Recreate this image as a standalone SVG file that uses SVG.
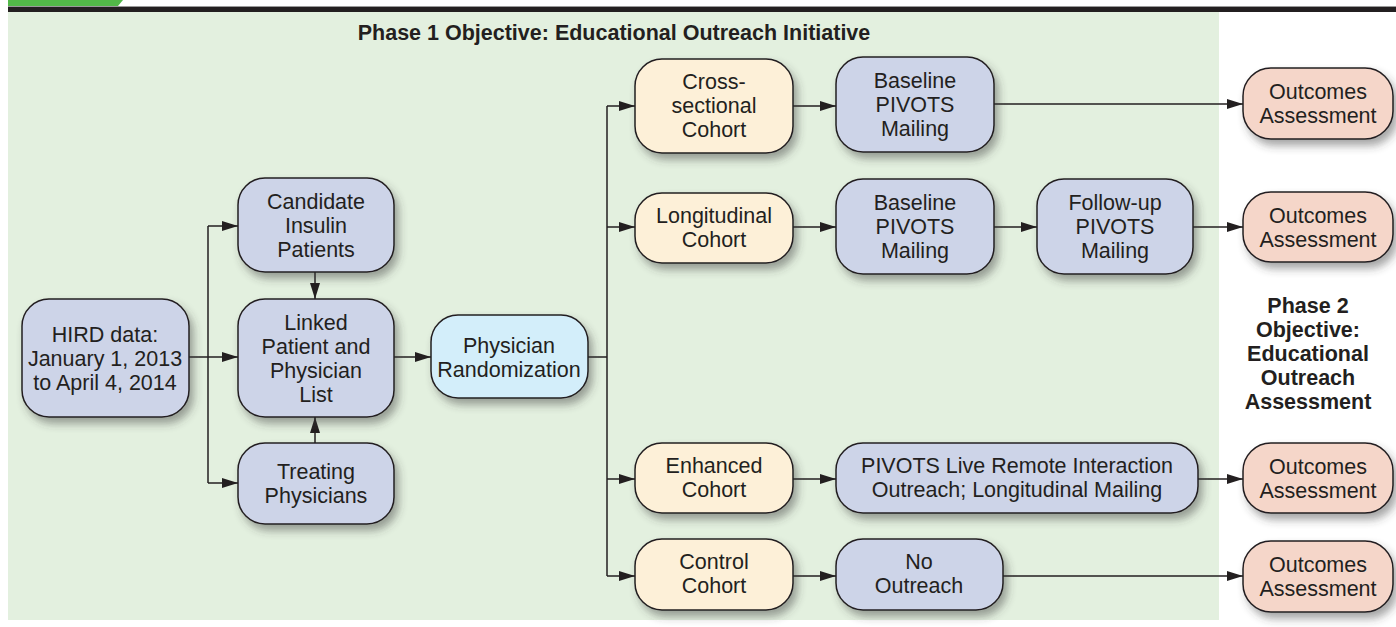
<svg xmlns="http://www.w3.org/2000/svg" width="1396" height="627" viewBox="0 0 1396 627">
<defs>
<filter id="sh" x="-20%" y="-20%" width="150%" height="160%">
<feDropShadow dx="4" dy="6" stdDeviation="4" flood-color="#3a3a3a" flood-opacity="0.45"/>
</filter>
<marker id="ar" markerUnits="userSpaceOnUse" markerWidth="17" markerHeight="11" refX="16" refY="5" orient="auto">
<path d="M0,0 L16,5 L0,10 z" fill="#231f20"/>
</marker>
</defs>
<style>
.n rect{stroke:#231f20;stroke-width:1.5;filter:url(#sh)}
.b rect{fill:#cdd4e8}
.c rect{fill:#fdf0d8}
.o rect{fill:#f5d6c9}
.p rect{fill:#d3eefa}
text{font-family:"Liberation Sans",Arial,sans-serif;font-size:21.5px;fill:#231f20;text-anchor:middle}
.h{font-weight:bold}
#conn path{fill:none;stroke:#231f20;stroke-width:1.5}
#conn path.a{marker-end:url(#ar)}
</style>
<rect x="0" y="0" width="1396" height="627" fill="#ffffff"/>
<rect x="8" y="12" width="1211" height="608" fill="#e3f0df"/>
<polygon points="8,0 123,0 118,6 8,6" fill="#52b848"/>
<rect x="8" y="6" width="1388" height="1" fill="#9a9a9a"/>
<rect x="8" y="7" width="1388" height="5" fill="#231f20"/>
<text class="h" x="614" y="40">Phase 1 Objective: Educational Outreach Initiative</text>
<text class="h" x="1308"><tspan x="1308" y="313">Phase 2</tspan><tspan x="1308" y="337">Objective:</tspan><tspan x="1308" y="361">Educational</tspan><tspan x="1308" y="385">Outreach</tspan><tspan x="1308" y="409">Assessment</tspan></text>

<g id="conn">
<path class="a" d="M189,357 H238"/>
<path d="M208,226 V483"/>
<path class="a" d="M208,226 H238"/>
<path class="a" d="M208,483 H238"/>
<path class="a" d="M315,272 V299"/>
<path class="a" d="M315,443 V417"/>
<path class="a" d="M394,357 H431"/>
<path d="M588,357 H607"/>
<path d="M607,106 V576"/>
<path class="a" d="M607,106 H635"/>
<path class="a" d="M607,227 H635"/>
<path class="a" d="M607,479 H635"/>
<path class="a" d="M607,576 H635"/>
<path class="a" d="M793,106 H836"/>
<path class="a" d="M793,227 H836"/>
<path class="a" d="M793,479 H836"/>
<path class="a" d="M793,576 H836"/>
<path class="a" d="M994,104 H1243"/>
<path class="a" d="M994,227 H1037"/>
<path class="a" d="M1193,227 H1243"/>
<path class="a" d="M1198,479 H1243"/>
<path class="a" d="M1003,576 H1243"/>
</g>

<g id="hird" class="n b"><rect x="22" y="299" width="167" height="118" rx="27"/>
<text><tspan x="105" y="342">HIRD data:</tspan><tspan x="105" y="366">January 1, 2013</tspan><tspan x="105" y="390">to April 4, 2014</tspan></text></g>

<g id="candidate" class="n b"><rect x="238" y="178" width="156" height="94" rx="27"/>
<text><tspan x="316" y="209">Candidate</tspan><tspan x="316" y="233">Insulin</tspan><tspan x="316" y="257">Patients</tspan></text></g>

<g id="linked" class="n b"><rect x="238" y="299" width="156" height="118" rx="27"/>
<text><tspan x="316" y="330">Linked</tspan><tspan x="316" y="354">Patient and</tspan><tspan x="316" y="378">Physician</tspan><tspan x="316" y="402">List</tspan></text></g>

<g id="treating" class="n b"><rect x="238" y="443" width="156" height="81" rx="27"/>
<text><tspan x="316" y="479">Treating</tspan><tspan x="316" y="503">Physicians</tspan></text></g>

<g id="random" class="n p"><rect x="431" y="315" width="157" height="83" rx="27"/>
<text><tspan x="509" y="353">Physician</tspan><tspan x="509" y="377">Randomization</tspan></text></g>

<g id="cross" class="n c"><rect x="635" y="59" width="158" height="94" rx="27"/>
<text><tspan x="714" y="89">Cross-</tspan><tspan x="714" y="113">sectional</tspan><tspan x="714" y="137">Cohort</tspan></text></g>

<g id="baseline1" class="n b"><rect x="836" y="57" width="158" height="95" rx="27"/>
<text><tspan x="915" y="88">Baseline</tspan><tspan x="915" y="112">PIVOTS</tspan><tspan x="915" y="136">Mailing</tspan></text></g>

<g id="outcomes1" class="n o"><rect x="1243" y="68" width="150" height="71" rx="28"/>
<text><tspan x="1318" y="99">Outcomes</tspan><tspan x="1318" y="123">Assessment</tspan></text></g>

<g id="longitudinal" class="n c"><rect x="635" y="193" width="158" height="70" rx="27"/>
<text><tspan x="714" y="223">Longitudinal</tspan><tspan x="714" y="247">Cohort</tspan></text></g>

<g id="baseline2" class="n b"><rect x="836" y="179" width="158" height="95" rx="27"/>
<text><tspan x="915" y="210">Baseline</tspan><tspan x="915" y="234">PIVOTS</tspan><tspan x="915" y="258">Mailing</tspan></text></g>

<g id="followup" class="n b"><rect x="1037" y="179" width="156" height="95" rx="27"/>
<text><tspan x="1115" y="210">Follow-up</tspan><tspan x="1115" y="234">PIVOTS</tspan><tspan x="1115" y="258">Mailing</tspan></text></g>

<g id="outcomes2" class="n o"><rect x="1243" y="192" width="150" height="70" rx="28"/>
<text><tspan x="1318" y="223">Outcomes</tspan><tspan x="1318" y="247">Assessment</tspan></text></g>

<g id="enhanced" class="n c"><rect x="635" y="443" width="158" height="70" rx="27"/>
<text><tspan x="714" y="473">Enhanced</tspan><tspan x="714" y="497">Cohort</tspan></text></g>

<g id="live" class="n b"><rect x="836" y="443" width="362" height="70" rx="27"/>
<text><tspan x="1017" y="473">PIVOTS Live Remote Interaction</tspan><tspan x="1017" y="497">Outreach; Longitudinal Mailing</tspan></text></g>

<g id="outcomes3" class="n o"><rect x="1243" y="443" width="150" height="70" rx="28"/>
<text><tspan x="1318" y="474">Outcomes</tspan><tspan x="1318" y="498">Assessment</tspan></text></g>

<g id="control" class="n c"><rect x="635" y="539" width="158" height="71" rx="27"/>
<text><tspan x="714" y="569">Control</tspan><tspan x="714" y="593">Cohort</tspan></text></g>

<g id="nooutreach" class="n b"><rect x="836" y="539" width="167" height="71" rx="27"/>
<text><tspan x="919" y="569">No</tspan><tspan x="919" y="593">Outreach</tspan></text></g>

<g id="outcomes4" class="n o"><rect x="1243" y="541" width="150" height="71" rx="28"/>
<text><tspan x="1318" y="572">Outcomes</tspan><tspan x="1318" y="596">Assessment</tspan></text></g>
</svg>
